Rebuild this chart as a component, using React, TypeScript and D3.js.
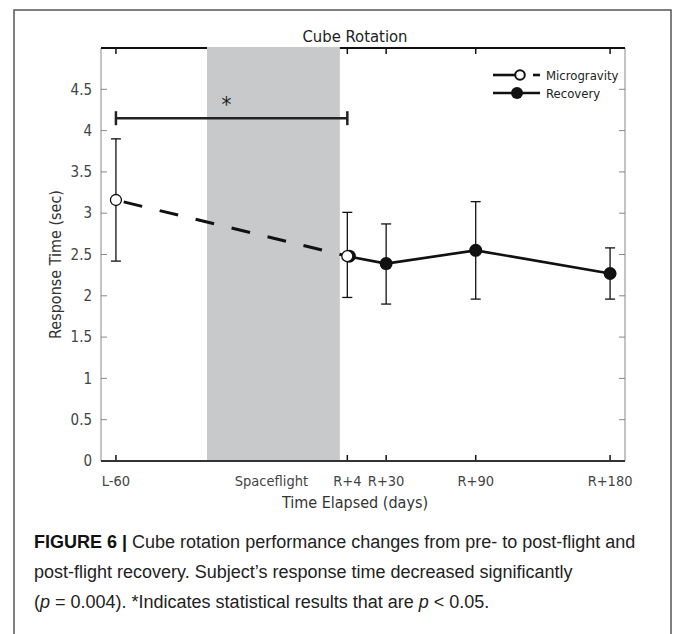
import React from "react";
import * as d3 from "d3";

// ---------- data ----------
const tickLabels = ["L-60", "R+4", "R+30", "R+90", "R+180"];
const tickDays = [-151, 4, 30, 90, 180];

const microDays = [-151, 4];
const microMean = [3.16, 2.48];
const microLow = [2.42, 1.98];
const microHigh = [3.9, 3.01];

const recoveryDays = [4, 30, 90, 180];
const recoveryMean = [2.48, 2.39, 2.55, 2.27];
const recoveryLow = [1.98, 1.9, 1.96, 1.96];
const recoveryHigh = [3.01, 2.87, 3.14, 2.58];

const yTicks = [0, 0.5, 1, 1.5, 2, 2.5, 3, 3.5, 4, 4.5];
const yTickLabels = ["0", "0.5", "1", "1.5", "2", "2.5", "3", "3.5", "4", "4.5"];

const flightSpan = [-90, -1];
const sigSpan = [-151, 4];
const sigLevel = 4.15;
const sigStarDay = -77;

const captionLines = [
  "Cube rotation performance changes from pre- to post-flight and",
  "post-flight recovery. Subject\u2019s response time decreased significantly",
];

const W = 674;
const H = 634;
const M = { left: 101, right: 625, top: 48, bottom: 461 };
const FONT = "'DejaVu Sans Condensed', 'Liberation Sans Narrow', sans-serif";
const CAP_FONT = "'Liberation Sans', Arial, sans-serif";

export default function App() {
  const x = d3.scaleLinear().domain([-161, 190]).range([M.left, M.right]);
  const y = d3.scaleLinear().domain([0, 5]).range([M.bottom, M.top]);
  const line = d3
    .line<[number, number]>()
    .x((d) => x(d[0]))
    .y((d) => y(d[1]));
  const microPts: [number, number][] = microDays.map((d, i) => [d, microMean[i]]);
  const recPts: [number, number][] = recoveryDays.map((d, i) => [d, recoveryMean[i]]);
  const tickLen = 6;

  const errBars = [
    { d: microDays[0], lo: microLow[0], hi: microHigh[0] },
    ...recoveryDays.map((d, i) => ({ d, lo: recoveryLow[i], hi: recoveryHigh[i] })),
  ];

  return (
    <svg
      width={W}
      height={H}
      style={{ position: "absolute", left: 0, top: 0, background: "#fff" }}
    >
      {/* outer frame */}
      <path d={`M14,${H + 5} V10 H671 V${H + 5}`} fill="none" stroke="#555" strokeWidth={1.5} />

      {/* title */}
      <text x={355} y={42} textAnchor="middle" fontFamily={FONT} fontSize={16.5} fill="#222">
        Cube Rotation
      </text>

      {/* left/right axes (thin gray) */}
      <line x1={M.left} x2={M.left} y1={M.top} y2={M.bottom} stroke="#888" strokeWidth={1} />
      <line x1={M.right} x2={M.right} y1={M.top} y2={M.bottom} stroke="#888" strokeWidth={1} />
      {/* top axis */}
      <line x1={M.left} x2={M.right} y1={M.top} y2={M.top} stroke="#111" strokeWidth={2} />

      {/* y ticks */}
      {yTicks.map((t, i) => (
        <g key={"y" + i}>
          <line x1={M.left} x2={M.left + tickLen} y1={y(t)} y2={y(t)} stroke="#888" strokeWidth={1} />
          <line x1={M.right} x2={M.right - tickLen} y1={y(t)} y2={y(t)} stroke="#888" strokeWidth={1} />
          <text
            x={M.left - 9}
            y={y(t)}
            dy="0.35em"
            textAnchor="end"
            fontFamily={FONT}
            fontSize={15}
            fill="#444"
          >
            {yTickLabels[i]}
          </text>
        </g>
      ))}

      {/* x ticks */}
      {tickDays.map((d, i) => (
        <g key={"x" + i}>
          <line x1={x(d)} x2={x(d)} y1={M.bottom} y2={M.bottom - tickLen} stroke="#111" strokeWidth={1.5} />
          <line x1={x(d)} x2={x(d)} y1={M.top} y2={M.top + tickLen} stroke="#111" strokeWidth={1.5} />
          <text x={x(d)} y={486} textAnchor="middle" fontFamily={FONT} fontSize={14.5} fill="#444">
            {tickLabels[i]}
          </text>
        </g>
      ))}

      {/* spaceflight band */}
      <rect
        x={x(flightSpan[0])}
        y={M.top - 1}
        width={x(flightSpan[1]) - x(flightSpan[0])}
        height={M.bottom - M.top}
        fill="#c8c9cb"
      />
      <text
        x={(x(flightSpan[0]) + x(flightSpan[1])) / 2 - 2}
        y={486}
        textAnchor="middle"
        fontFamily={FONT}
        fontSize={14.5}
        fill="#444"
      >
        Spaceflight
      </text>

      {/* bottom axis */}
      <line x1={M.left} x2={M.right} y1={M.bottom} y2={M.bottom} stroke="#333" strokeWidth={2} />

      {/* axis labels */}
      <text x={355} y={508} textAnchor="middle" fontFamily={FONT} fontSize={16} fill="#333">
        Time Elapsed (days)
      </text>
      <text
        transform={`translate(61,${(M.top + M.bottom) / 2 + 10}) rotate(-90)`}
        textAnchor="middle"
        fontFamily={FONT}
        fontSize={16}
        fill="#333"
      >
        Response Time (sec)
      </text>

      {/* significance bracket */}
      <g stroke="#222" strokeWidth={2.5}>
        <line x1={x(sigSpan[0])} x2={x(sigSpan[1])} y1={y(sigLevel)} y2={y(sigLevel)} />
        <line x1={x(sigSpan[0])} x2={x(sigSpan[0])} y1={y(sigLevel) - 7} y2={y(sigLevel) + 7} />
        <line x1={x(sigSpan[1])} x2={x(sigSpan[1])} y1={y(sigLevel) - 7} y2={y(sigLevel) + 7} />
      </g>
      <text x={x(sigStarDay)} y={y(sigLevel) - 6} textAnchor="middle" fontFamily={FONT} fontSize={22} fill="#222">
        *
      </text>

      {/* error bars */}
      {errBars.map((e, i) => (
        <g key={"e" + i} stroke="#111" strokeWidth={1.3}>
          <line x1={x(e.d)} x2={x(e.d)} y1={y(e.lo)} y2={y(e.hi)} />
          <line x1={x(e.d) - 5} x2={x(e.d) + 5} y1={y(e.lo)} y2={y(e.lo)} />
          <line x1={x(e.d) - 5} x2={x(e.d) + 5} y1={y(e.hi)} y2={y(e.hi)} />
        </g>
      ))}

      {/* lines */}
      <path d={line(microPts) || ""} fill="none" stroke="#111" strokeWidth={3} strokeDasharray="19 18" strokeDashoffset={-8} />
      <path d={line(recPts) || ""} fill="none" stroke="#111" strokeWidth={2.6} />

      {/* markers */}
      {recPts.map((p, i) => (
        <circle key={"r" + i} cx={x(p[0]) + (i === 0 ? 2 : 0)} cy={y(p[1])} r={6.5} fill="#111" />
      ))}
      {microPts.map((p, i) => (
        <circle key={"m" + i} cx={x(p[0])} cy={y(p[1])} r={5.5} fill="#fff" stroke="#111" strokeWidth={1.3} />
      ))}

      {/* legend */}
      <g>
        <line x1={493} x2={516} y1={75} y2={75} stroke="#111" strokeWidth={2.6} />
        <line x1={533} x2={540} y1={75} y2={75} stroke="#111" strokeWidth={2.6} />
        <circle cx={520} cy={75} r={4.8} fill="#fff" stroke="#111" strokeWidth={2} />
        <text x={546} y={75} dy="0.35em" fontFamily={FONT} fontSize={13} fill="#222">
          Microgravity
        </text>
        <line x1={493} x2={540} y1={93} y2={93} stroke="#111" strokeWidth={2.6} />
        <circle cx={517} cy={93} r={6} fill="#111" />
        <text x={546} y={93} dy="0.35em" fontFamily={FONT} fontSize={13} fill="#222">
          Recovery
        </text>
      </g>

      {/* caption */}
      <text x={34} y={548} fontFamily={CAP_FONT} fontSize={18} fill="#222">
        <tspan fontWeight="bold" fill="#111">FIGURE 6 | </tspan>
        {captionLines[0]}
      </text>
      <text x={34} y={578} fontFamily={CAP_FONT} fontSize={18} fill="#222">
        {captionLines[1]}
      </text>
      <text x={34} y={608} fontFamily={CAP_FONT} fontSize={18} fill="#222">
        (<tspan fontStyle="italic">p</tspan> = 0.004). *Indicates statistical results that are{" "}
        <tspan fontStyle="italic">p</tspan> {"<"} 0.05.
      </text>
    </svg>
  );
}
